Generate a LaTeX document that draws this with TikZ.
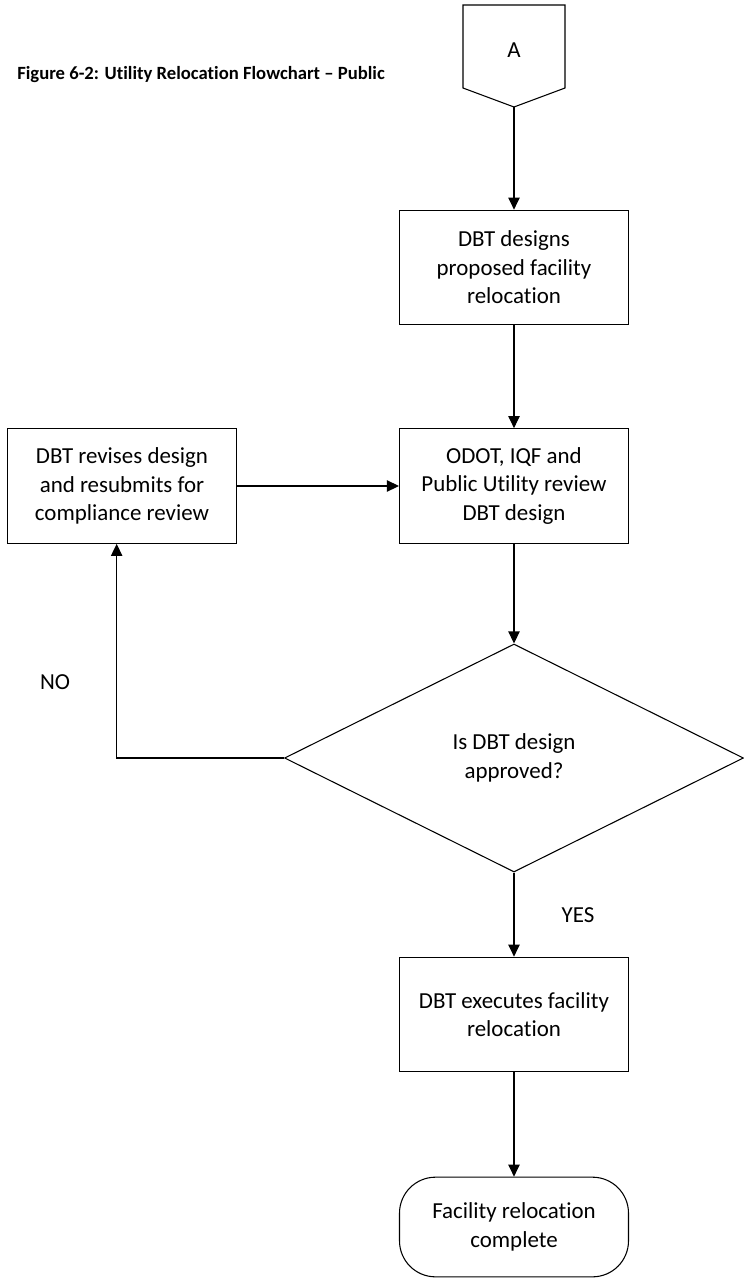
\documentclass[tikz,border=0pt]{standalone}
\usepackage{fontspec}
\setmainfont{Carlito}[Ligatures={NoCommon,NoContextual}]
\usetikzlibrary{shapes.geometric,arrows.meta}

\newcommand{\boxfont}{\fontsize{17.2}{21.3}\selectfont}
\tikzset{
  procbox/.style={draw, line width=0.8pt, minimum width=171.75pt, minimum height=86pt, align=center, inner sep=2pt, font=\boxfont},
  decbox/.style={draw, diamond, line width=0.8pt, minimum width=344.25pt, minimum height=171pt, inner sep=0pt, align=center, font=\boxfont},
  endbox/.style={draw, rounded corners=27pt, line width=0.8pt, minimum width=171.75pt, minimum height=74.75pt, align=center, font=\boxfont},
  flow/.style={line width=0.8pt, -{Triangle[length=9pt,width=8.5pt]}},
  lbl/.style={font=\boxfont}
}

\begin{document}
\begin{tikzpicture}[x=0.75pt,y=-0.75pt]
\useasboundingbox (0,0) rectangle (743,1278);
\newcommand{\Mid}{514}
\coordinate (P1) at (463,5);
\coordinate (P2) at (565,5);
\coordinate (P3) at (565,88);
\coordinate (Tip) at (\Mid,107);
\coordinate (P4) at (463,88);

\draw[line width=0.8pt] (P1) -- (P2) -- (P3) -- (Tip) -- (P4) -- cycle;% Off-page connector
\node[lbl] (conA) at (\Mid,50) {A};

\node[anchor=west, inner sep=0pt, font=\bfseries\fontsize{14}{16}\selectfont] (title) at (17,75) {Figure 6-2: Utility Relocation Flowchart -- Public};

\node[procbox] (design) at (\Mid,267.5) {DBT designs\\proposed facility\\relocation};
\node[procbox] (review) at (\Mid,486) {ODOT, IQF and\\Public Utility review\\DBT design};
\node[procbox] (revise) at (122,486) {DBT revises design\\and resubmits for\\compliance review};
\node[decbox] (approve) at (\Mid,758) {Is DBT design\\approved?};
\node[procbox] (execute) at (\Mid,1014.5) {DBT executes facility\\relocation};
\node[endbox] (done) at (\Mid,1227) {Facility relocation\\complete};

\node[lbl] (no) at (55,682) {NO};
\node[lbl] (yes) at (578,915) {YES};

\draw[flow] (Tip) -- (design);
\draw[flow] (design) -- (review);
\draw[flow] (revise) -- (review);
\draw[flow] (review) -- (approve);
\draw[flow] (approve) -- (execute);% YES branch
\draw[flow] (execute) -- (done);
\draw[flow] (approve.west) -| ([xshift=-4pt]revise.south);% NO branch
\end{tikzpicture}
\end{document}
